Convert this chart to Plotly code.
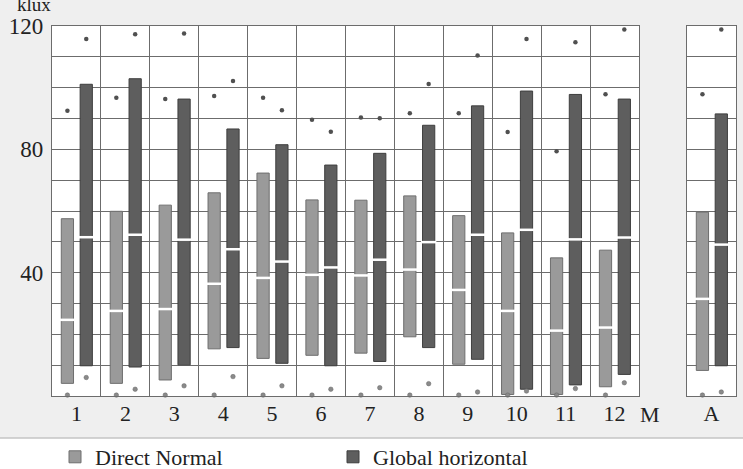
import plotly.graph_objects as go

months = list(range(1, 13))
month_labels = [str(m) for m in months]
annual_label = "A"

# Direct Normal (klux): bar top, bar bottom, median, upper dot, lower dot
dn_top = [57.5, 59.9, 61.9, 65.9, 72.3, 63.6, 63.5, 64.9, 58.5, 52.9, 44.8, 47.3]
dn_bot = [4.1, 4.1, 5.2, 15.3, 12.2, 13.2, 13.9, 19.2, 10.3, 0.5, 0.5, 3.0]
dn_med = [24.7, 27.6, 28.2, 36.4, 38.3, 39.3, 39.1, 41.0, 34.4, 27.6, 21.2, 22.2]
dn_hi = [92.5, 96.7, 96.3, 97.3, 96.7, 89.6, 90.3, 91.7, 91.7, 85.6, 79.4, 97.9]
dn_lo = [0.3] * 12

# Global horizontal (klux)
gh_top = [101.1, 102.9, 96.3, 86.6, 81.5, 74.9, 78.7, 87.8, 94.1, 98.9, 97.8, 96.3]
gh_bot = [9.8, 9.4, 10.1, 15.7, 10.6, 9.8, 11.2, 15.7, 11.9, 2.2, 3.6, 7.0]
gh_med = [51.5, 52.3, 50.7, 47.6, 43.6, 41.7, 44.2, 49.9, 52.3, 53.9, 50.8, 51.4]
gh_hi = [115.8, 117.3, 117.6, 102.2, 92.7, 85.7, 90.1, 101.2, 110.4, 115.8, 114.7, 118.9]
gh_lo = [6.0, 2.2, 3.3, 6.3, 3.3, 2.2, 2.7, 4.0, 1.3, 1.6, 2.4, 4.3]

# Annual
a_dn = dict(top=59.6, bot=8.3, med=31.5, hi=97.9, lo=0.3)
a_gh = dict(top=91.5, bot=9.8, med=49.1, hi=118.9, lo=1.3)

y_ticks = list(range(0, 121, 10))
y_ticktext = [str(v) if v in (40, 80, 120) else "" for v in y_ticks]

DN_FILL = "#9a9a9a"
DN_EDGE = "#6e6e6e"
GH_FILL = "#5e5e5e"
GH_EDGE = "#3e3e3e"
GRID = "#6c6c6c"
DOT = "#505050"
FONT = "Liberation Serif"
TXT = "#222"

BW = 0.25
DN_OFF = -0.31
GH_OFF = 0.075

fig = go.Figure()


def add_series(xs, top, bot, med, hi, lo, fill, edge, off, name, xa, ya, legend):
    xc = [x + off + BW / 2 for x in xs]
    fig.add_trace(go.Bar(
        x=xs, y=[t - b for t, b in zip(top, bot)], base=bot,
        width=BW, offset=off, name=name, showlegend=legend,
        marker=dict(color=fill, line=dict(color=edge, width=1)),
        xaxis=xa, yaxis=ya, legendgroup=name,
    ))
    fig.add_trace(go.Scatter(
        x=xc, y=med, mode="markers", showlegend=False, xaxis=xa, yaxis=ya,
        marker=dict(symbol="line-ew", size=11, line=dict(color="white", width=2.5)),
        hoverinfo="skip",
    ))
    fig.add_trace(go.Scatter(
        x=xc, y=hi, mode="markers", showlegend=False, xaxis=xa, yaxis=ya,
        marker=dict(symbol="circle", size=4.5, color=DOT), cliponaxis=False,
    ))
    fig.add_trace(go.Scatter(
        x=xc, y=lo, mode="markers", showlegend=False, xaxis=xa, yaxis=ya,
        marker=dict(symbol="circle", size=4.5, color="#8a8a8a", line=dict(color="#666", width=0.5)),
        cliponaxis=False,
    ))


add_series(months, dn_top, dn_bot, dn_med, dn_hi, dn_lo, DN_FILL, DN_EDGE, DN_OFF,
           "Direct Normal", "x", "y", True)
add_series(months, gh_top, gh_bot, gh_med, gh_hi, gh_lo, GH_FILL, GH_EDGE, GH_OFF,
           "Global horizontal", "x", "y", True)
add_series([1], [a_dn["top"]], [a_dn["bot"]], [a_dn["med"]], [a_dn["hi"]], [a_dn["lo"]],
           DN_FILL, DN_EDGE, DN_OFF, "Direct Normal", "x2", "y2", False)
add_series([1], [a_gh["top"]], [a_gh["bot"]], [a_gh["med"]], [a_gh["hi"]], [a_gh["lo"]],
           GH_FILL, GH_EDGE, GH_OFF, "Global horizontal", "x2", "y2", False)

W, H = 743, 469
L, R, T, B = 52, 7, 26, 73
pw = W - L - R
ph = H - T - B
main_right = (639 - L) / pw
a_left = (687 - L) / pw

axis_common = dict(showline=True, mirror=True, linecolor=GRID, linewidth=1.3,
                   ticks="", zeroline=False, tickfont=dict(family=FONT, size=22, color=TXT))

fig.update_layout(
    width=W, height=H,
    margin=dict(l=L, r=R, t=T, b=B),
    paper_bgcolor="#efefef", plot_bgcolor="white",
    barmode="overlay",
    font=dict(family=FONT, color=TXT),
    xaxis=dict(domain=[0, main_right], range=[0.5, 12.5], tickvals=months, ticktext=month_labels,
               showgrid=False, anchor="y", ticklabelstandoff=-3,
               minor=dict(tickvals=[m + 0.5 for m in range(0, 13)], showgrid=True,
                          gridcolor=GRID, gridwidth=1.3, ticks=""),
               **axis_common),
    xaxis2=dict(domain=[a_left, 1], range=[0.5, 1.5], tickvals=[1], ticktext=[annual_label],
                showgrid=False, anchor="y2", ticklabelstandoff=-3, **axis_common),
    yaxis=dict(domain=[0, 1], range=[0, 120], tickvals=y_ticks, ticktext=y_ticktext,
               showgrid=True, gridcolor=GRID, gridwidth=1.3, anchor="x", ticklabelstandoff=3,
               **{**axis_common, "tickfont": dict(family=FONT, size=23, color=TXT)}),
    yaxis2=dict(domain=[0, 1], range=[0, 120], tickvals=y_ticks, showticklabels=False,
                showgrid=True, gridcolor=GRID, gridwidth=1.3, anchor="x2", matches="y",
                **axis_common),
    legend=dict(orientation="h", xref="container", yref="container",
                x=55 / W, y=(H - 436) / H, xanchor="left", yanchor="top",
                font=dict(family=FONT, size=22, color=TXT),
                entrywidth=233, entrywidthmode="pixels", bgcolor="rgba(0,0,0,0)"),
    showlegend=True,
)

sep_y = (T + ph - 438) / ph
fig.add_shape(type="rect", xref="paper", yref="paper", x0=-L / pw - 0.01, x1=1 + R / pw + 0.01,
              y0=-B / ph - 0.01, y1=sep_y, fillcolor="white", line=dict(width=0), layer="below")
fig.add_shape(type="line", xref="paper", yref="paper", x0=-L / pw, x1=1 + R / pw,
              y0=sep_y, y1=sep_y, line=dict(color="#c4c4c4", width=1.5), layer="below")

fig.add_annotation(text="M", xref="paper", yref="paper", x=(650 - L) / pw, y=(T + ph - 414) / ph,
                   showarrow=False, xanchor="center", yanchor="middle",
                   font=dict(family=FONT, size=22, color=TXT))
fig.add_annotation(text="klux", xref="paper", yref="paper", x=(34 - L) / pw, y=(T + ph - 5) / ph,
                   showarrow=False, xanchor="center", yanchor="middle",
                   font=dict(family=FONT, size=19, color=TXT))

fig.write_html("out.html")
